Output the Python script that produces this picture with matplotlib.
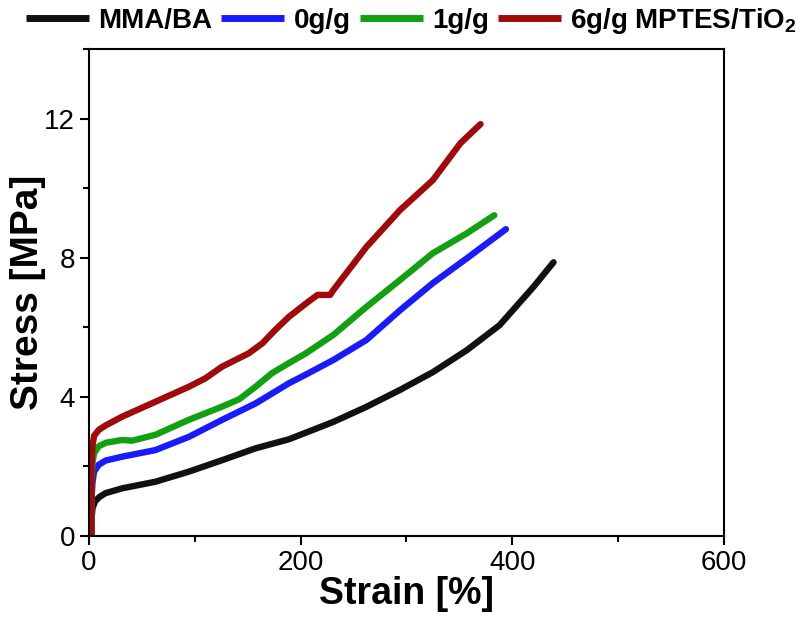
import numpy as np
import matplotlib.pyplot as plt
from matplotlib.ticker import MultipleLocator

plt.rcParams['font.family'] = ['Liberation Sans', 'DejaVu Sans']
plt.rcParams['mathtext.fontset'] = 'custom'
plt.rcParams['mathtext.rm'] = 'Liberation Sans'
plt.rcParams['mathtext.bf'] = 'Liberation Sans:bold'

# strain [%] / stress [MPa]
mma_x = [2.5, 2.6, 3.5, 6, 10, 15.7, 31.5, 63, 94.5, 126, 157.5, 189, 205, 231, 262, 294, 325, 357, 388, 420, 439]
mma_y = [0, 0.5, 0.8, 1.0, 1.12, 1.23, 1.37, 1.56, 1.85, 2.18, 2.52, 2.78, 2.97, 3.28, 3.71, 4.2, 4.71, 5.34, 6.06, 7.16, 7.87]

g0_x = [2.5, 2.5, 3.5, 5, 9.4, 16, 31.5, 63, 94.5, 126, 157.5, 189, 205, 231, 262, 294, 325, 357, 394]
g0_y = [0, 1.0, 1.55, 1.85, 2.05, 2.17, 2.28, 2.47, 2.85, 3.34, 3.81, 4.39, 4.64, 5.06, 5.63, 6.49, 7.27, 7.98, 8.82]

g1_x = [2.5, 2.5, 3.5, 5, 9.4, 16, 31.5, 41, 63, 94.5, 126, 142, 157.5, 173, 189, 205, 231, 262, 294, 325, 357, 383]
g1_y = [0, 1.5, 2.1, 2.38, 2.58, 2.68, 2.76, 2.74, 2.91, 3.34, 3.72, 3.93, 4.29, 4.68, 4.97, 5.25, 5.78, 6.58, 7.36, 8.13, 8.7, 9.22]

g6_x = [2.5, 2.5, 3.5, 5, 9.4, 16, 31.5, 63, 94.5, 110, 126, 151, 164, 176, 189, 205, 216, 228, 231, 262, 294, 325, 351, 370]
g6_y = [0, 2.0, 2.6, 2.88, 3.05, 3.18, 3.43, 3.86, 4.29, 4.53, 4.87, 5.25, 5.54, 5.92, 6.30, 6.68, 6.93, 6.93, 7.07, 8.3, 9.37, 10.23, 11.29, 11.84]

labels = ['MMA/BA', '0g/g', '1g/g', r'6g/g MPTES/TiO$_\mathbf{2}$']
colors = ['#111111', '#1a1aff', '#11a011', '#a00a0a']

fig = plt.figure(figsize=(8, 6.2), dpi=100)
ax = fig.add_axes([0.111, 0.1355, 0.794, 0.7855])

for xs, ys, lab, c in zip([mma_x, g0_x, g1_x, g6_x], [mma_y, g0_y, g1_y, g6_y], labels, colors):
    ax.plot(xs, ys, color=c, lw=4.6, label=lab, solid_capstyle='round', solid_joinstyle='round')

ax.set_xlim(0, 600)
ax.set_ylim(0, 14)
ax.xaxis.set_major_locator(MultipleLocator(200))
ax.xaxis.set_minor_locator(MultipleLocator(100))
ax.yaxis.set_major_locator(MultipleLocator(4))
ax.yaxis.set_minor_locator(MultipleLocator(2))
ax.tick_params(which='major', direction='out', length=6.5, width=1.5, labelsize=20)
ax.tick_params(which='minor', direction='out', length=4, width=1.5)
for s in ax.spines.values():
    s.set_linewidth(1.5)

ax.set_xlabel('Strain [%]', fontsize=27, fontweight='bold', labelpad=0)
ax.set_ylabel('Stress [MPa]', fontsize=28, fontweight='bold', va='center')
ax.yaxis.set_label_coords(-0.096, 0.5)

leg = fig.legend(loc='center', bbox_to_anchor=(0.514, 0.966), ncol=4, frameon=False,
                 prop={'size': 20, 'weight': 'bold'}, handlelength=2.27,
                 handletextpad=0.33, columnspacing=0.33, borderaxespad=0)
for line in leg.get_lines():
    line.set_linewidth(5)
    line.set_solid_capstyle('butt')

fig.savefig('out.png', dpi=100)
